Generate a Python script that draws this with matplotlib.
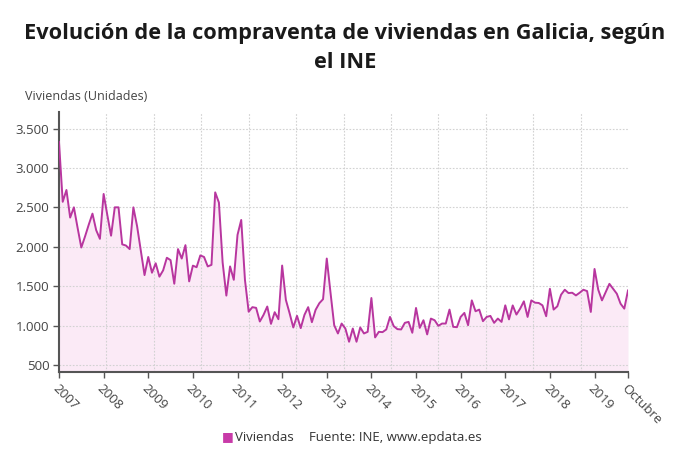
import matplotlib
matplotlib.use("Agg")
import matplotlib.pyplot as plt
from matplotlib.ticker import FixedLocator, FuncFormatter

plt.rcParams['font.family'] = ['Open Sans', 'DejaVu Sans']

# ventas mensuales de viviendas, enero 2007 - octubre 2019
viviendas = [
    # 2007
    3330, 2570, 2720, 2370, 2500, 2240, 1990, 2130, 2280, 2420, 2210, 2100,
    # 2008
    2670, 2400, 2140, 2500, 2500, 2030, 2015, 1970, 2500, 2260, 1950, 1640,
    # 2009
    1870, 1670, 1790, 1620, 1700, 1860, 1830, 1530, 1970, 1850, 2020, 1560,
    # 2010
    1760, 1740, 1890, 1870, 1750, 1770, 2690, 2560, 1800, 1380, 1750, 1580,
    # 2011
    2150, 2340, 1580, 1175, 1233, 1224, 1051, 1135, 1241, 1021, 1169, 1080,
    # 2012
    1761, 1326, 1157, 975, 1123, 967, 1135, 1233, 1042, 1199, 1283, 1334,
    # 2013
    1850, 1420, 1004, 899, 1025, 962, 794, 962, 794, 975, 899, 920,
    # 2014
    1349, 849, 920, 916, 950, 1109, 992, 954, 950, 1034, 1046, 908,
    # 2015
    1223, 970, 1067, 887, 1088, 1067, 996, 1025, 1025, 1202, 983, 979,
    # 2016
    1109, 1160, 1004, 1319, 1181, 1202, 1055, 1109, 1122, 1034, 1088, 1046,
    # 2017
    1256, 1078, 1255, 1139, 1214, 1307, 1109, 1319, 1290, 1286, 1256, 1118,
    # 2018
    1466, 1202, 1244, 1391, 1454, 1412, 1416, 1382, 1416, 1454, 1437, 1172,
    # 2019
    1718, 1454, 1319, 1424, 1529, 1466, 1403, 1277, 1214, 1445,
]
year_labels = [str(y) for y in range(2007, 2020)] + ["Octubre"]
y_ticks = [500, 1000, 1500, 2000, 2500, 3000, 3500]

line_color = "#b8369f"
fill_color = "#fbeaf6"
grid_color = "#d2d2d2"
text_color = "#444444"

n = len(viviendas)
x = list(range(n))
ymin, ymax = 410, 3710

fig = plt.figure(figsize=(6.9, 4.65), dpi=100)
ax = fig.add_axes([59 / 690, 1 - 372 / 465, 569 / 690, 260 / 465])

ax.fill_between(x, viviendas, ymin, color=fill_color, lw=0, zorder=1)
ax.plot(x, viviendas, color=line_color, lw=1.4, zorder=3)

ax.set_xlim(0, n - 1)
ax.set_ylim(ymin, ymax)

xt = [12 * k for k in range(13)] + [n - 1]
ax.set_xticks(xt)
ax.set_xticklabels(year_labels, rotation=-45, ha="left", va="top",
                   rotation_mode="anchor", fontsize=9.5, color=text_color)
ax.xaxis.set_minor_locator(FixedLocator([(n - 1) * k / 12 for k in range(13)]))
ax.tick_params(axis="x", which="minor", length=0)
ax.tick_params(axis="x", which="major", length=4, width=1, color="#555555", pad=3)

ax.set_yticks(y_ticks)
ax.yaxis.set_major_formatter(FuncFormatter(lambda v, p: f"{int(v):,}".replace(",", ".")))
ax.tick_params(axis="y", length=4, width=1, color="#555555", labelsize=9.5,
               labelcolor=text_color, pad=3)

ax.grid(True, axis="y", which="major", ls=(0, (1.5, 1.5)), color=grid_color, lw=0.8, zorder=0)
ax.grid(True, axis="x", which="minor", ls=(0, (1.5, 1.5)), color=grid_color, lw=0.8, zorder=0)
ax.grid(False, axis="x", which="major")

for s in ["top", "right"]:
    ax.spines[s].set_visible(False)
ax.spines["left"].set_color("#555555")
ax.spines["left"].set_linewidth(1.5)
ax.spines["bottom"].set_color("#555555")
ax.spines["bottom"].set_linewidth(1.5)

fig.text(0.5, 1 - 48 / 465, "Evolución de la compraventa de viviendas en Galicia, según\nel INE",
         ha="center", va="center", fontsize=15.7, fontweight="bold", color="#1a1a1a",
         linespacing=1.5)
fig.text(25 / 690, 1 - 97 / 465, "Viviendas (Unidades)", ha="left", va="center",
         fontsize=9, color=text_color)

fig.text(228 / 690, 1 - 437 / 465, "■", ha="center", va="center", fontsize=9, color="#c83aa8")
fig.text(235 / 690, 1 - 437 / 465, "Viviendas", ha="left", va="center", fontsize=9.5, color="#333333")
fig.text(309 / 690, 1 - 437 / 465, "Fuente: INE, www.epdata.es", ha="left", va="center",
         fontsize=9.5, color="#333333")

fig.savefig("out.png", dpi=100)
